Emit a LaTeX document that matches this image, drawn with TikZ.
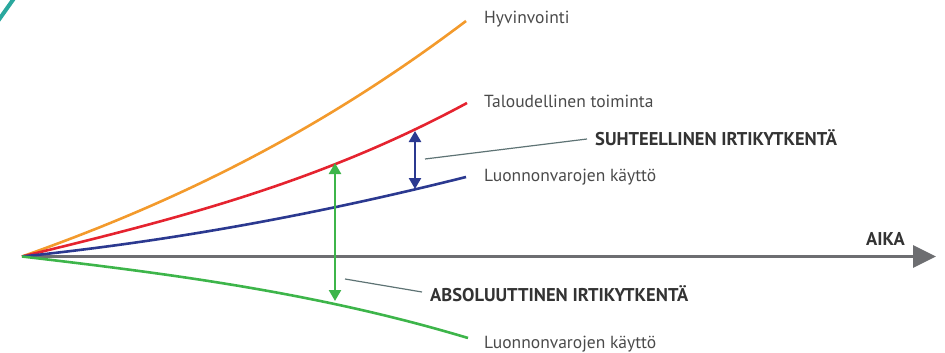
\documentclass[tikz,border=0pt]{standalone}
\usepackage{fontspec}
\setmainfont{PT Sans}
\usetikzlibrary{arrows.meta}
\definecolor{corange}{HTML}{F39A2C}
\definecolor{cred}{HTML}{E5232F}
\definecolor{cblue}{HTML}{2B3990}
\definecolor{cgreen}{HTML}{3DB54A}
\definecolor{caxis}{HTML}{6D6E71}
\definecolor{cteal}{HTML}{2AA89E}
\definecolor{clead}{HTML}{5E7374}
\definecolor{ctext}{HTML}{4A4A4A}
\definecolor{cbold}{HTML}{333333}
\tikzset{
  curve/.style={line width=2.6pt},
  lbl/.style={anchor=base west, inner sep=0pt, text=ctext, font=\fontsize{17.5}{17.5}\selectfont},
  blbl/.style={anchor=base west, inner sep=0pt, text=cbold, font=\bfseries\fontsize{18.5}{18.5}\selectfont},
  dbl/.style={line width=2.4pt, {Triangle[length=11pt,width=12pt]}-{Triangle[length=11pt,width=12pt]}},
  leader/.style={line width=1.2pt, draw=clead},
}
\begin{document}
\begin{tikzpicture}[x=1pt,y=-1pt]
\useasboundingbox (0,0) rectangle (945,353);
\draw[cteal, line width=4pt] (15,-3) -- (-2,21);
% axis
\coordinate (O) at (22,256.5);
\coordinate (E) at (936,256.5);
\draw[caxis, line width=3.5pt, -{Triangle[length=23pt,width=22pt]}] (O) -- (E);
\node[blbl] (aika) at (866,245) {AIKA};
% curves
\coordinate (oe) at (466,21);
\coordinate (re) at (467,103);
\coordinate (be) at (466,177);
\coordinate (ge) at (468,338);
\draw[curve, corange] (O) .. controls (172,203.5) and (316,134.5) .. (oe);
\draw[curve, cred] (O) .. controls (172,220) and (317,184) .. (re);
\draw[curve, cblue] (O) .. controls (172,241) and (316,214.5) .. (be);
\draw[curve, cgreen] (O) .. controls (172,274) and (318,293) .. (ge);
% labels
\node[lbl] (hyv) at (484,24) {Hyvinvointi};
\node[lbl] (tal) at (484,107) {Taloudellinen toiminta};
\node[lbl] (luo1) at (484,181) {Luonnonvarojen käyttö};
\node[lbl] (luo2) at (484,348) {Luonnonvarojen käyttö};
% relative decoupling
\coordinate (bt) at (415,131);
\coordinate (bb) at (415,189);
\draw[dbl, cblue] (bt) -- (bb);
\node[blbl] (suht) at (595,145) {SUHTEELLINEN IRTIKYTKENTÄ};
\coordinate (s1) at (425,159);
\draw[leader] (s1) -- (587,139);
% absolute decoupling
\coordinate (gt) at (335,163);
\coordinate (gb) at (335,301);
\draw[dbl, cgreen] (gt) -- (gb);
\node[blbl] (abs) at (430,301) {ABSOLUUTTINEN IRTIKYTKENTÄ};
\coordinate (a1) at (345,279);
\draw[leader] (a1) -- (422,292);
\end{tikzpicture}
\end{document}
